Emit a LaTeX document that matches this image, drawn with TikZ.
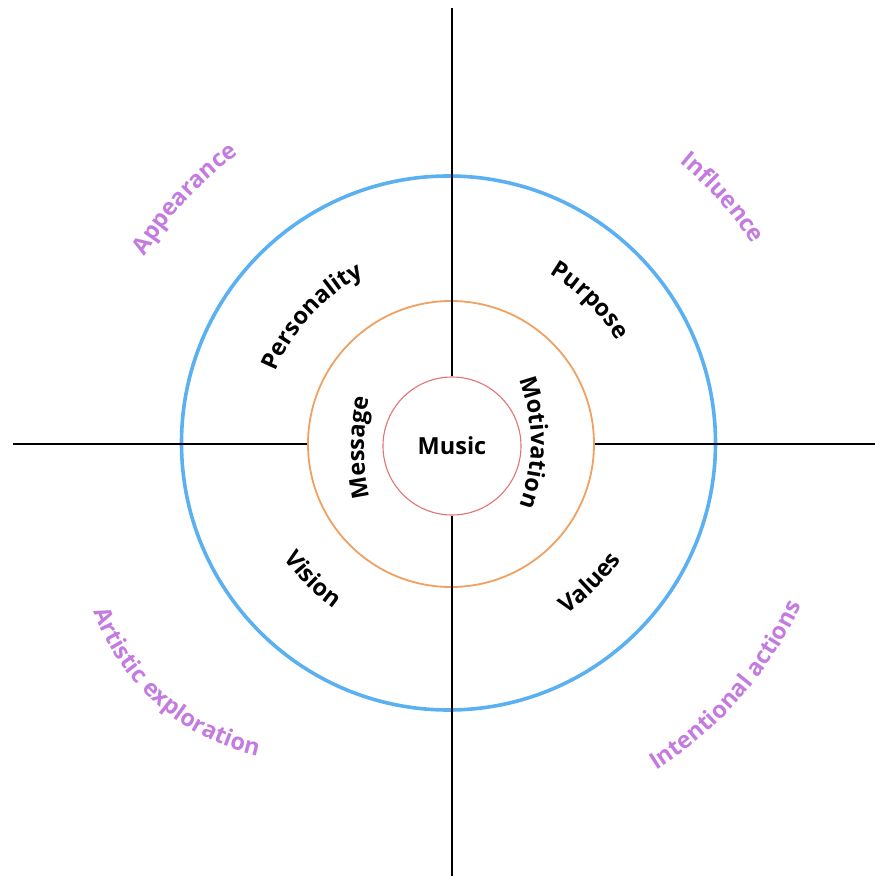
\documentclass[tikz,border=0pt]{standalone}
\usepackage{fontspec}
\setmainfont{Open Sans}
\usetikzlibrary{decorations.text}
\definecolor{purp}{HTML}{C47BE0}
\definecolor{blu}{HTML}{5AB0F0}
\definecolor{orng}{HTML}{F0A060}
\definecolor{redc}{HTML}{E57373}
\newcommand{\blkfmt}{\fontsize{23.5}{28}\selectfont\bfseries\color{black}}
\newcommand{\purfmt}{\fontsize{23.5}{28}\selectfont\bfseries\color{purp}}
% #1 centre, #2 radius, #3 start angle, #4 end angle, #5 format, #6 text
\newcommand{\arcTxt}[6]{%
  \path[decorate, decoration={text along path, text align=center, text={|#5|#6}}]
    (#1) ++(#3:#2) arc[start angle=#3, end angle=#4, radius=#2];}
\tikzset{
  axisline/.style={draw=black, line width=1.6pt},
  ringbox/.style={circle, inner sep=0pt, fill=none},
}
\begin{document}
\begin{tikzpicture}[x=1pt,y=1pt]
\useasboundingbox (-450,-433) rectangle (425,443);
% circles
\node[ringbox, draw=blu, line width=3.6pt, minimum size=534] (outer) at (-1.5,0) {};
\node[ringbox, draw=orng, line width=1.8pt, minimum size=286] (ring) at (1,-1) {};
\node[ringbox, draw=redc, line width=1.1pt, minimum size=138, font=\blkfmt] (music) at (2,-3) {Music};
% axis lines
\coordinate (ttop) at (2,435);
\coordinate (bbot) at (2,-433);
\coordinate (lleft) at (-437,-1);
\coordinate (rright) at (425,-1);
\draw[axisline] (music.north) -- (ttop);
\draw[axisline] (music.south) -- (bbot);
\draw[axisline] (ring.west) -- (lleft);
\draw[axisline] (ring.east) -- (rright);
% outer purple labels
\arcTxt{0,0}{358}{177.4}{97.4}{\purfmt}{Appearance}
\arcTxt{0,0}{362}{82}{2}{\purfmt}{Influence}
\arcTxt{-142,-90.5}{228}{183.6}{273.6}{\purfmt}{Artistic exploration}
\arcTxt{0,0}{387}{278.7}{358.7}{\purfmt}{Intentional actions}
% middle ring labels
\arcTxt{0,0}{188}{177.5}{97.5}{\blkfmt}{Personality}
\arcTxt{0,0}{196}{85.5}{5.5}{\blkfmt}{Purpose}
\arcTxt{0,0}{202}{184.9}{264.9}{\blkfmt}{Vision}
\arcTxt{0,0}{207}{275}{355}{\blkfmt}{Values}
% inner ring labels
\arcTxt{134,-4.5}{220}{205}{155}{\blkfmt}{Message}
\arcTxt{-99,0.5}{180}{35}{-35}{\blkfmt}{Motivation}
\end{tikzpicture}
\end{document}
